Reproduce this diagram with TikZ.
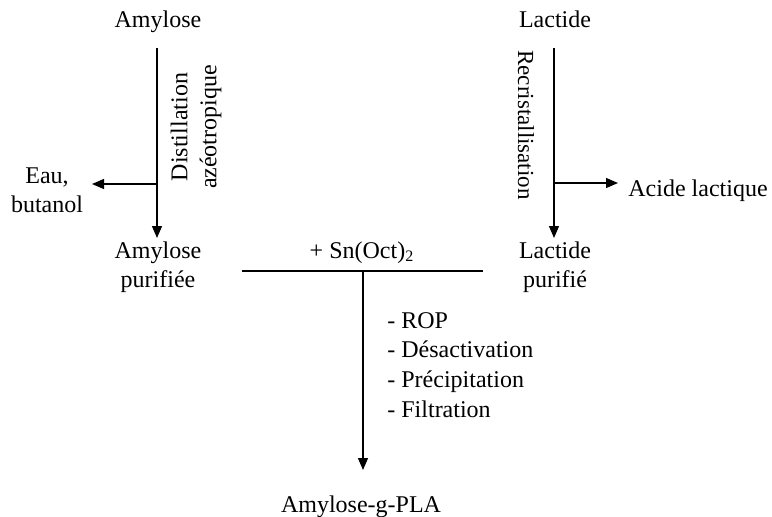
\documentclass[tikz,border=0pt]{standalone}
\usepackage{fontspec}
\setmainfont{Liberation Serif}
\usetikzlibrary{arrows.meta}

\tikzset{
  flow/.style={-{Triangle[width=5pt,length=6pt]}, line width=0.6pt},
  txt/.style={font=\fontsize{12}{14.5}\selectfont, inner sep=0pt, align=center},
}

\begin{document}
\begin{tikzpicture}[x=0.5pt,y=-0.5pt]
\useasboundingbox (0,0) rectangle (772,516);
% starting products
\node[txt, anchor=base] (amy) at (158,27) {Amylose};
\node[txt, anchor=base] (lac) at (555,27) {Lactide};
% purified products (base = last line)
\node[txt, anchor=base] (amyp) at (158,287) {Amylose\\purifiée};
\node[txt, anchor=base] (lacp) at (555,287) {Lactide\\purifié};
% by-products
\node[txt, anchor=base] (eau) at (47,212) {Eau,\\butanol};
\node[txt, anchor=base west] (acide) at (628,196) {Acide lactique};
% treatments
\node[txt, rotate=90] (dist) at (196,127) {Distillation\\azéotropique};
\node[txt, rotate=-90, font=\fontsize{11.5}{14}\selectfont] (recr) at (526,125) {Recristallisation};
% amylose branch
\coordinate (a0) at (157,48);
\coordinate (a1) at (157,238);
\coordinate (a2) at (157,184);
\coordinate (a3) at (92,184);
\draw[flow] (a0) -- (a1);
\draw[flow] (a2) -- (a3);
% lactide branch
\coordinate (l0) at (554,48);
\coordinate (l1) at (554,238);
\coordinate (l2) at (554,183);
\coordinate (l3) at (618,183);
\draw[flow] (l0) -- (l1);
\draw[flow] (l2) -- (l3);
% coupling step
\node[txt, anchor=base] (cat) at (362,258) {+ Sn(Oct)\textsubscript{2}};
\coordinate (h1) at (242,271);
\coordinate (h2) at (483,271);
\coordinate (h3) at (363,271);
\coordinate (h4) at (363,470);
\draw[line width=0.6pt] (h1) -- (h2);
\draw[flow] (h3) -- (h4);
\node[txt, anchor=base west, align=left, font=\fontsize{12}{14.8}\selectfont] (steps) at (387,417)
  {- ROP\\- Désactivation\\- Précipitation\\- Filtration};
\node[txt, anchor=base] (prod) at (361,512) {Amylose-g-PLA};
\end{tikzpicture}
\end{document}
